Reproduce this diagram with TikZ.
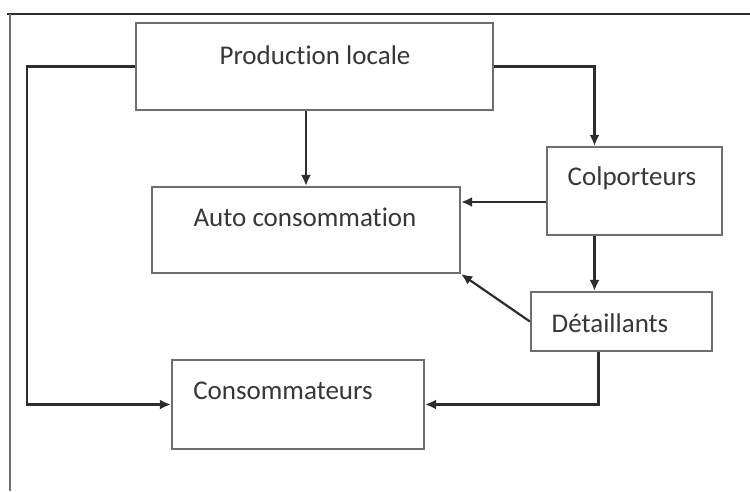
\documentclass[tikz,border=0pt]{standalone}
\usepackage{fontspec}
\setmainfont[Ligatures=NoCommon]{Carlito}
\usetikzlibrary{arrows.meta}
\definecolor{boxgray}{RGB}{110,110,110}
\definecolor{arrowgray}{RGB}{45,45,45}
\definecolor{textgray}{RGB}{55,55,55}

\tikzset{
    flowbox/.style={draw=boxgray, line width=2.2pt, minimum width=#1, inner sep=0pt},
    flowtext/.style={textgray, font=\fontsize{27}{31}\selectfont, inner sep=0pt},
    flowarrow/.style={arrowgray, line width=2.2pt, -{Latex[length=11pt,width=10pt]}}
}

\begin{document}
\begin{tikzpicture}[x=1pt, y=-1pt]
    \useasboundingbox (0,0) rectangle (750,491);
    % frame
    \draw[arrowgray, line width=2.8pt] (7,14) -- (750,14);
    \draw[boxgray, line width=2.2pt] (10,14) -- (10,491);

    % boxes
    \node[flowbox=357pt, minimum height=87pt] (prod) at (314.5,66.5) {};
    \node[flowtext] (prodtext) at (315,55) {Production locale};
    \node[flowbox=308pt, minimum height=86pt] (auto) at (306,230) {};
    \node[flowtext] (autotext) at (305,217) {Auto consommation};
    \node[flowbox=175pt, minimum height=88pt] (colp) at (634.5,191) {};
    \node[flowtext] (colptext) at (632,178) {Colporteurs};
    \node[flowbox=181pt, minimum height=59pt] (det) at (621.5,321.5) {};
    \node[flowtext] (dettext) at (610,323) {Détaillants};
    \node[flowbox=252pt, minimum height=89pt] (cons) at (298,404.5) {};
    \node[flowtext] (constext) at (283,391) {Consommateurs};

    % flows
    \draw[flowarrow] (prod.west) -- ++(-108,0) |- (cons.west);
    \draw[flowarrow] (prod.east) -| ([xshift=-40pt]colp.north);
    \draw[flowarrow] (prod.south -| auto.north) -- (auto.north);
    \draw[flowarrow] ([yshift=-11pt]colp.west) -- ([yshift=-11pt]colp.west -| auto.east);
    \draw[flowarrow] ([xshift=-40pt]colp.south) -- ([xshift=-40pt]colp.south |- det.north);
    \draw[flowarrow] (det.west) -- (auto.south east);
    \draw[flowarrow] ([xshift=-23pt]det.south) |- (cons.east);
\end{tikzpicture}
\end{document}
